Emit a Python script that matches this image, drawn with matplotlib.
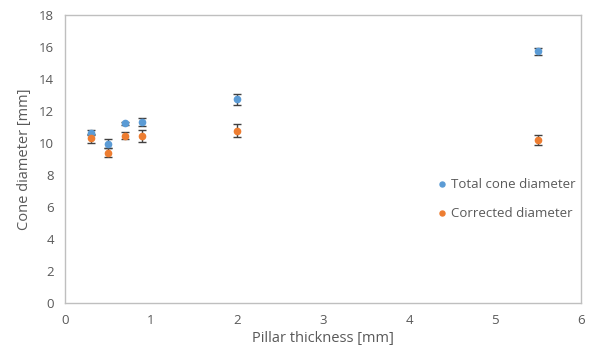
import matplotlib
matplotlib.use("Agg")
import matplotlib.pyplot as plt

# pillar thickness [mm]
thickness = [0.3, 0.5, 0.7, 0.9, 2.0, 5.5]

total_diam = [10.65, 9.95, 11.22, 11.33, 12.73, 15.73]
total_err = [0.18, 0.28, 0.1, 0.26, 0.33, 0.2]

corr_diam = [10.3, 9.4, 10.46, 10.44, 10.77, 10.19]
corr_err = [0.27, 0.3, 0.2, 0.36, 0.42, 0.31]

plt.rcParams['font.family'] = ['Open Sans', 'DejaVu Sans']
grey = '#595959'

fig = plt.figure(figsize=(5.89, 3.54), dpi=100)
ax = fig.add_axes([65 / 589, 1 - 303 / 354, 516 / 589, 288 / 354])

ax.errorbar(thickness, total_diam, yerr=total_err, fmt='o', color='#5B9BD5',
            ms=4.5, ecolor='#404040', elinewidth=1, capsize=3, capthick=1,
            label='Total cone diameter', zorder=3)
ax.errorbar(thickness, corr_diam, yerr=corr_err, fmt='o', color='#ED7D31',
            ms=4.5, ecolor='#404040', elinewidth=1, capsize=3, capthick=1,
            label='Corrected diameter', zorder=3)

ax.set_xlim(0, 6)
ax.set_ylim(0, 18)
ax.set_xticks(range(0, 7))
ax.set_yticks(range(0, 19, 2))
for s in ax.spines.values():
    s.set_color('#BFBFBF')
    s.set_linewidth(1)
ax.tick_params(length=0, labelsize=9.5, colors=grey, pad=8)

ax.set_xlabel('Pillar thickness [mm]', fontsize=10.5, color=grey, labelpad=3)
ax.set_ylabel('Cone diameter [mm]', fontsize=10.5, color=grey, labelpad=5)

h, l = ax.get_legend_handles_labels()
h = [hh[0] for hh in h]
leg = ax.legend(h, l, loc='center left', bbox_to_anchor=(0.7, 0.36),
                frameon=False, fontsize=9.5, markerscale=0.8,
                handlelength=0.6, handletextpad=0.4, labelspacing=1.2)
for t in leg.get_texts():
    t.set_color(grey)

fig.savefig('out.png', dpi=100)
